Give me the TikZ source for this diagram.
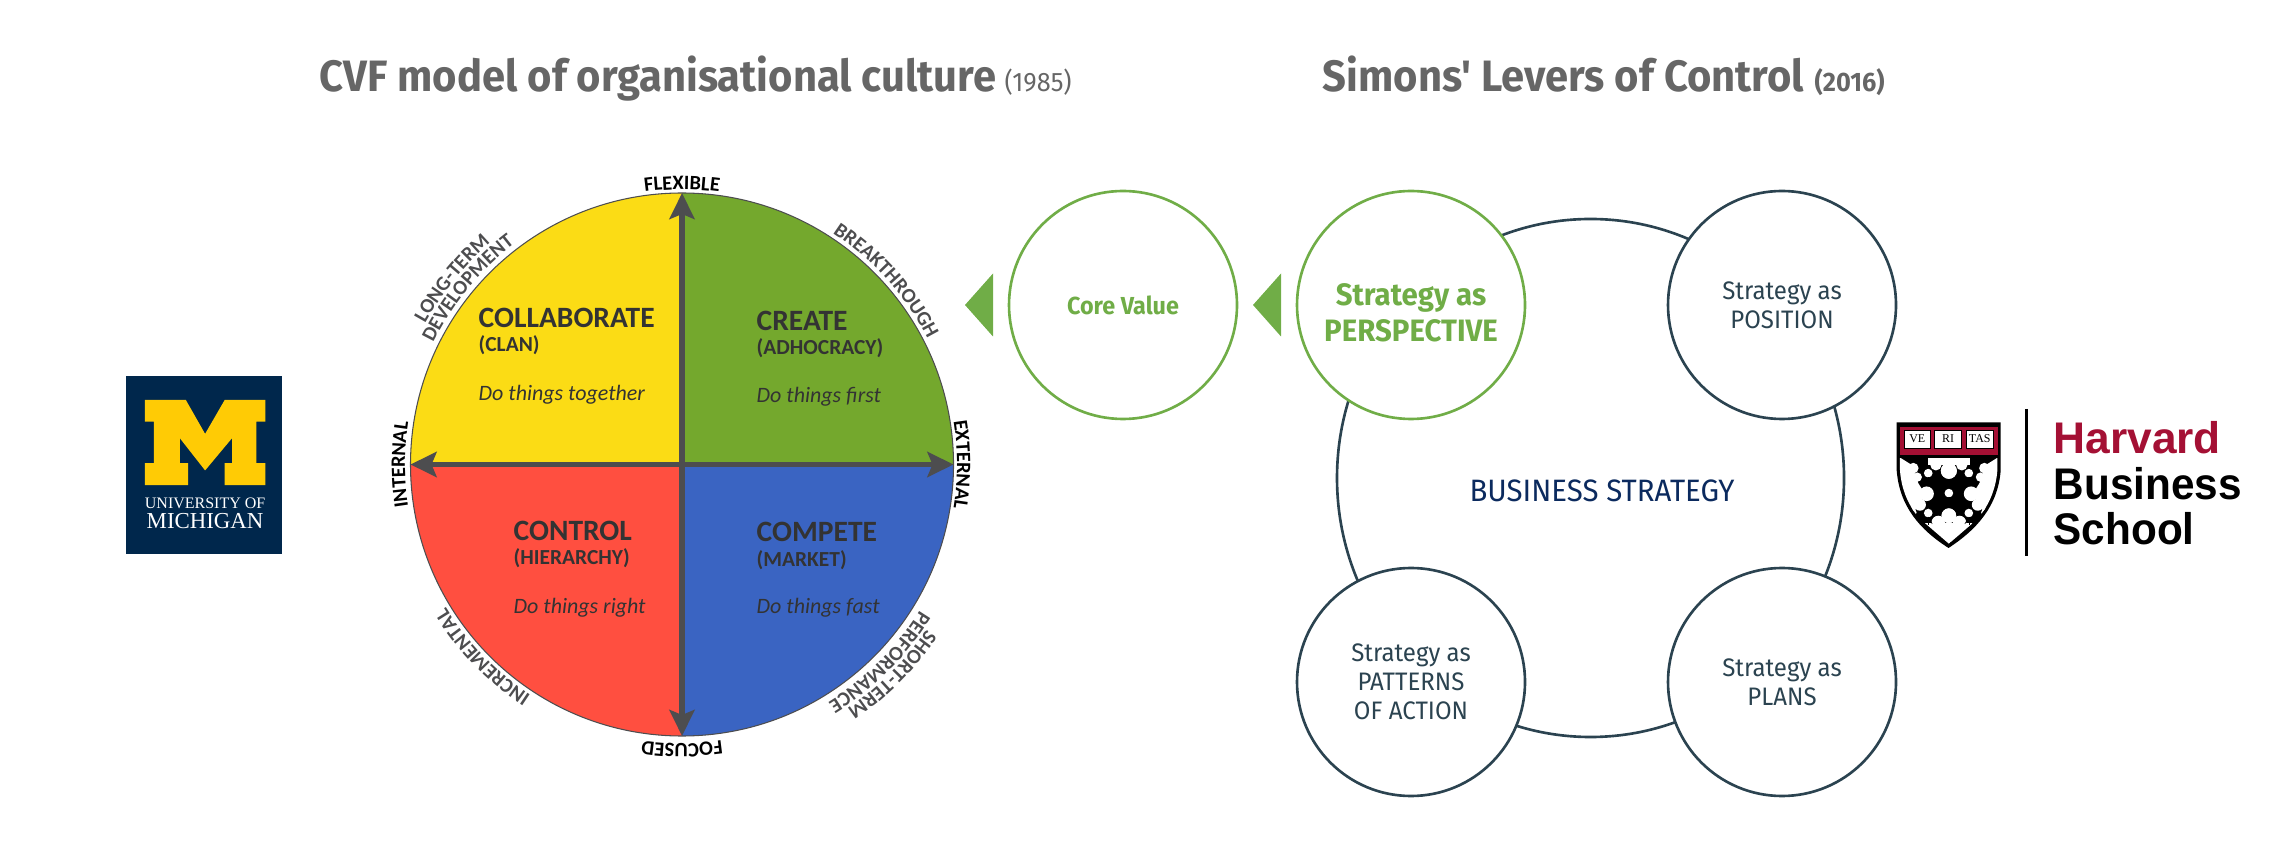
\documentclass[tikz,border=0pt]{standalone}
\usepackage{fontspec}
\usetikzlibrary{arrows.meta,shapes.geometric,decorations.text}
\newfontfamily\levfont[FakeStretch=0.95]{Fira Sans}
\newfontfamily\cvffont{Carlito}
\newfontfamily\umfont{Liberation Serif}
\newfontfamily\hbsfont{Liberation Sans}
\definecolor{titlegrey}{HTML}{666666}
\definecolor{levgreen}{HTML}{70AD47}
\definecolor{levdark}{HTML}{2B4350}
\definecolor{levnavy}{HTML}{0B2A5E}
\definecolor{cvfyellow}{HTML}{FBDC15}
\definecolor{cvfgreen}{HTML}{74A82D}
\definecolor{cvfred}{HTML}{FF4F40}
\definecolor{cvfblue}{HTML}{3A64C2}
\definecolor{cvfdark}{HTML}{4D4D4F}
\definecolor{cvftext}{HTML}{333333}
\definecolor{umblue}{HTML}{00274C}
\definecolor{ummaize}{HTML}{FFCB05}
\definecolor{hbsred}{HTML}{A41034}
\newcommand{\ringbold}{\color{black}\cvffont\bfseries\fontsize{5.8}{7}\selectfont}
\newcommand{\ringsoft}{\color{cvfdark}\cvffont\bfseries\fontsize{5.8}{7}\selectfont}
% text on a clockwise arc round the CVF circle
\newcommand{\ringlabel}[4]{\path[decorate,decoration={text along path,text align=center,text={|#3|#4}}]
  ([shift={(#1+45:#2)}]cvf) arc[start angle=#1+45,end angle=#1-45,radius=#2];}
\tikzset{
  bigtitle/.style={anchor=base west,text=titlegrey,inner sep=0pt,font=\levfont\bfseries\fontsize{12.5}{14}\selectfont},
  yearlight/.style={anchor=base west,text=titlegrey,inner sep=0pt,font=\levfont\fontsize{7.6}{9}\selectfont},
  yearbold/.style={yearlight,font=\levfont\bfseries\fontsize{7.6}{9}\selectfont},
  cvfhead/.style={anchor=base west,text=cvftext,inner sep=0pt,font=\cvffont\bfseries\fontsize{8.4}{10}\selectfont},
  cvfsub/.style={anchor=base west,text=cvftext,inner sep=0pt,font=\cvffont\bfseries\fontsize{6.1}{8}\selectfont},
  cvfdo/.style={anchor=base west,text=cvftext,inner sep=0pt,font=\cvffont\itshape\fontsize{6.25}{8}\selectfont},
  cvfarrow/.style={draw=cvfdark,line width=1.6pt,{Stealth[length=2.6mm,width=2.5mm,inset=0.5mm]}-{Stealth[length=2.6mm,width=2.5mm,inset=0.5mm]}},
  lever/.style={circle,draw=levdark,fill=white,line width=0.75pt,minimum size=2.28cm,inner sep=0pt,align=center,text=levdark,
    font=\levfont\fontsize{7.2}{8.25}\selectfont},
  levergreen/.style={lever,draw=levgreen,text=levgreen},
  book/.style={draw=black,fill=white,line width=0.2pt,minimum width=0.267cm,minimum height=0.18cm,inner sep=0pt,
    font=\umfont\fontsize{3.4}{4}\selectfont},
  hbsword/.style={anchor=base west,inner sep=0pt,font=\hbsfont\bfseries\fontsize{12.6}{14}\selectfont},
}
\begin{document}
\begin{tikzpicture}
    \useasboundingbox (0,0) rectangle (22.9,8.66);

    % titles
    \node[bigtitle] (cvftitle) at (3.19,7.74) {CVF model of organisational culture};
    \node[yearlight] (cvfyear) at (10.04,7.74) {(1985)};
    \node[bigtitle] (levtitle) at (13.22,7.74) {Simons' Levers of Control};
    \node[yearbold] (levyear) at (18.14,7.74) {(2016)};

    % Michigan logo
    \begin{scope}[shift={(1,5.06)},x=0.003333cm,y=-0.003333cm]
        \fill[umblue] (78,48) rectangle (548,582);
        \fill[ummaize] (135,120) -- (258,120) -- (316,222) -- (375,120) -- (497,120) -- (497,185) -- (470,185)
            -- (470,310) -- (497,310) -- (497,376) -- (375,376) -- (375,310) -- (397,310) -- (397,235)
            -- (316,332) -- (240,235) -- (240,310) -- (265,310) -- (265,376) -- (135,376) -- (135,310)
            -- (162,310) -- (162,185) -- (135,185) -- cycle;
        \node[text=white,inner sep=0pt,font=\umfont\fontsize{4.55}{5}\selectfont,anchor=base] (umone) at (316,445) {UNIVERSITY OF};
        \node[text=white,inner sep=0pt,font=\umfont\fontsize{6.5}{7}\selectfont,anchor=base] (umtwo) at (316,508) {MICHIGAN};
    \end{scope}

    % CVF circle
    \coordinate (cvf) at (6.82,4.015);
    \fill[cvfyellow] (cvf) -- ++(90:2.715) arc (90:180:2.715) -- cycle;
    \fill[cvfgreen] (cvf) -- ++(0:2.715) arc (0:90:2.715) -- cycle;
    \fill[cvfred] (cvf) -- ++(180:2.715) arc (180:270:2.715) -- cycle;
    \fill[cvfblue] (cvf) -- ++(270:2.715) arc (270:360:2.715) -- cycle;
    \draw[cvfdark,line width=0.3pt] (cvf) circle (2.715);
    \coordinate (cvftop) at (6.82,6.73);
    \coordinate (cvfbottom) at (6.82,1.30);
    \coordinate (cvfleft) at (4.105,4.015);
    \coordinate (cvfright) at (9.535,4.015);
    \draw[cvfarrow] (cvfbottom) -- (cvftop);
    \draw[cvfarrow] (cvfleft) -- (cvfright);

    \node[cvfhead] (collab) at (4.78,5.38) {COLLABORATE};
    \node[cvfsub] (clan) at (4.78,5.14) {(CLAN)};
    \node[cvfdo] (together) at (4.78,4.65) {Do things together};
    \node[cvfhead] (create) at (7.56,5.355) {CREATE};
    \node[cvfsub] (adhoc) at (7.56,5.11) {(ADHOCRACY)};
    \node[cvfdo] (first) at (7.56,4.63) {Do things first};
    \node[cvfhead] (control) at (5.13,3.25) {CONTROL};
    \node[cvfsub] (hier) at (5.13,3.01) {(HIERARCHY)};
    \node[cvfdo] (right) at (5.13,2.53) {Do things right};
    \node[cvfhead] (compete) at (7.56,3.24) {COMPETE};
    \node[cvfsub] (market) at (7.56,3.00) {(MARKET)};
    \node[cvfdo] (fast) at (7.56,2.52) {Do things fast};

    % labels round the circle
    \ringlabel{90}{2.75}{\ringbold}{FLEXIBLE}
    \ringlabel{0}{2.75}{\ringbold}{EXTERNAL}
    \ringlabel{270}{2.79}{\ringbold}{FOCUSED}
    \ringlabel{180}{2.77}{\ringbold}{INTERNAL}
    \ringlabel{42}{2.76}{\ringsoft}{BREAKTHROUGH}
    \ringlabel{224}{2.76}{\ringsoft}{INCREMENTAL}
    \ringlabel{141}{2.93}{\ringsoft}{LONG-TERM}
    \ringlabel{140.5}{2.77}{\ringsoft}{DEVELOPMENT}
    \ringlabel{-45}{2.95}{\ringsoft}{SHORT-TERM}
    \ringlabel{-45}{2.79}{\ringsoft}{PERFORMANCE}

    % pointers
    \fill[levgreen] (9.93,5.925) -- (9.65,5.61) -- (9.93,5.295) -- cycle;
    \fill[levgreen] (12.81,5.925) -- (12.53,5.61) -- (12.81,5.295) -- cycle;

    % levers
    \node[ellipse,draw=levdark,line width=0.75pt,minimum width=5.07cm,minimum height=5.18cm] (business) at (15.905,3.88) {};
    \node[text=levnavy,inner sep=0pt,font=\levfont\fontsize{8.8}{10}\selectfont] (businesstext) at (16.02,3.75) {BUSINESS STRATEGY};
    \node[levergreen,font=\levfont\bfseries\fontsize{7}{8.25}\selectfont] (core) at (11.23,5.61) {Core Value};
    \node[levergreen] (persp) at (14.11,5.61) {};
    \node[text=levgreen,inner sep=0pt,align=center,font=\levfont\bfseries\fontsize{8.8}{10.2}\selectfont] (persptext) at (14.11,5.53) {Strategy as\\PERSPECTIVE};
    \node[lever] (position) at (17.82,5.61) {Strategy as\\POSITION};
    \node[lever] (patterns) at (14.11,1.84) {Strategy as\\PATTERNS\\OF ACTION};
    \node[lever] (plans) at (17.82,1.84) {Strategy as\\PLANS};

    % Harvard logo
    \begin{scope}[shift={(18.7,4.76)},x=0.003333cm,y=-0.003333cm]
        \fill[black] (80,97) -- (393,97) -- (393,240) .. controls (385,350) and (320,420) .. (236,475)
            .. controls (150,420) and (88,350) .. (80,240) -- cycle;
        \fill[hbsred] (90,110) rectangle (385,195);
        \begin{scope}
            \clip (90,205) -- (383,205) -- (383,240) .. controls (375,345) and (315,410) .. (236,462)
                .. controls (158,410) and (97,345) .. (90,240) -- cycle;
            \fill[white] (173,205) rectangle (301,225);
            \fill[white] (165,400) -- (309,400) -- (237,462) -- cycle;
            \fill[white] (85,200) -- (125,225) -- (145,280) -- (165,312) -- (145,345) -- (120,385) -- (85,400) -- cycle;
            \fill[white] (389,200) -- (349,225) -- (329,280) -- (309,312) -- (329,345) -- (354,385) -- (389,400) -- cycle;
            \foreach \cx/\cy/\cr in {198/225/17,237/243/24,130/235/16,142/262/14,170/312/22,150/345/18,125/368/15,237/378/22,205/398/20}{
                \fill[white] (\cx,\cy) circle (\cr);
                \fill[white] (474-\cx,\cy) circle (\cr);
            }
        \end{scope}
        \foreach \cx/\cy in {175/250,297/250,237/310,175/370,297/370}{
            \fill[white] (\cx,\cy) circle (13);
            \foreach \ang in {-120,-90,-60}{
                \draw[black,line width=0.15pt] (\cx,\cy+12) -- ++(\ang+180:24);
            }
        }
        \node[book] (ve) at (142,147) {VE};
        \node[book] (ri) at (235,147) {RI};
        \node[book] (tas) at (330,147) {TAS};
        \draw[black,line width=0.75pt] (471,57) -- (471,500);
        \node[hbsword,text=hbsred] (harvard) at (550,190) {Harvard};
        \node[hbsword,xscale=0.955] (hbsbusiness) at (550,330) {Business};
        \node[hbsword,xscale=0.955] (hbsschool) at (550,465) {School};
    \end{scope}
\end{tikzpicture}
\end{document}
